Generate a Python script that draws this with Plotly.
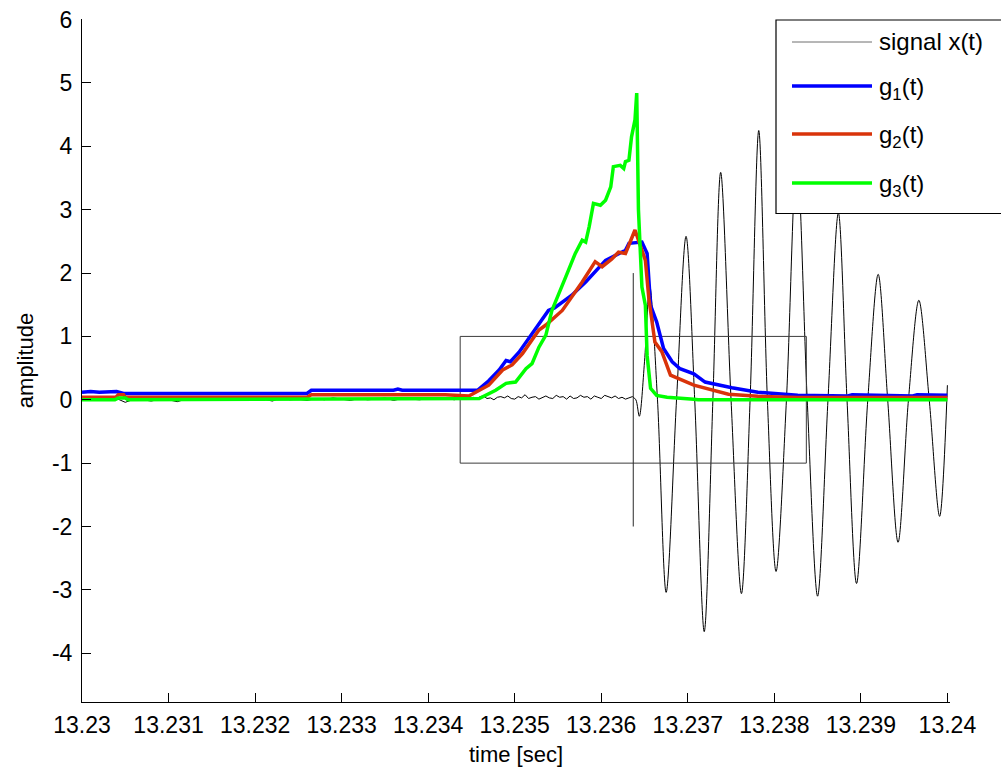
import plotly.graph_objects as go

# ---------------- data ----------------
# x(t): background noise before the event, sampled every 0.0001 s
pre_t0 = 13.2300
pre_dt = 0.0001
pre_vals = [0.00, 0.01, -0.01, 0.00, 0.02, -0.04, 0.01, 0.00, -0.02, 0.01,
            0.00, -0.03, 0.01, 0.02, 0.00, -0.01, 0.01, 0.00, 0.02, -0.01,
            0.00, 0.01, -0.02, 0.03, 0.00, 0.01, -0.01, 0.02, 0.00, 0.03,
            0.01, -0.01, 0.02, 0.00, 0.01, 0.03, -0.01, 0.02, 0.01, 0.00,
            0.02, 0.01, 0.03, 0.00]
# x(t): noise just before the onset, sampled every 0.00004 s
noise_t0 = 13.2344
noise_dt = 0.00004
noise_vals = [0.03, 0.05, 0.02, 0.04, 0.01, 0.05, 0.06, 0.02, 0.03, 0.00,
              0.04, 0.05, 0.03, 0.06, 0.02, 0.01, 0.05, 0.03, 0.08, 0.02,
              0.04, 0.05, 0.01, 0.03, 0.06, 0.03, 0.02, 0.07, 0.04, 0.05,
              0.01, 0.06, 0.02, 0.03, 0.07, 0.04, 0.05, 0.01, 0.06, 0.04,
              0.02, 0.07, 0.05, 0.03, 0.06, 0.02, 0.04, 0.01, 0.03, 0.05]
# x(t): oscillation after the onset (extremes and zero crossings)
osc_t = [13.23636, 13.23640, 13.23644, 13.23650, 13.23656, 13.23665, 13.23675, 13.23687,
         13.23698, 13.23708, 13.23719, 13.23729, 13.23738, 13.23750, 13.23762,
         13.23772, 13.23782, 13.23792, 13.23802, 13.23814, 13.23826, 13.23838,
         13.23850, 13.23862, 13.23874, 13.23884, 13.23895, 13.23908, 13.23920,
         13.23931, 13.23943, 13.23955, 13.23967, 13.23979, 13.23991, 13.24000]
osc_v = [0.05, 0.00, -0.26, 0.60, 1.80, 0.00, -3.04, 0.00,
         2.58, 0.00, -3.66, 0.00, 3.59, 0.00, -3.06,
         0.00, 4.25, 0.00, -2.71, 0.00, 3.90, 0.00,
         -3.10, 0.00, 2.95, 0.00, -2.90, 0.00, 1.98,
         0.00, -2.25, 0.00, 1.57, 0.00, -1.84, 0.23]

# g1(t)
g1_t = [13.23000, 13.23010, 13.23020, 13.23030, 13.23040, 13.23048, 13.23150,
        13.23160, 13.23200, 13.23260, 13.23265, 13.23360, 13.23365, 13.23370,
        13.23440, 13.23457, 13.23470, 13.23482, 13.23490, 13.23495, 13.23505,
        13.23520, 13.23539, 13.23546, 13.23566, 13.23582, 13.23605, 13.23628,
        13.23632, 13.23647, 13.23653, 13.23657, 13.23664, 13.23672, 13.23682,
        13.23691, 13.23707, 13.23720, 13.23751, 13.23781, 13.23827, 13.23885,
        13.23890, 13.23960, 13.23965, 13.24000]
g1_v = [0.12, 0.13, 0.12, 0.13, 0.13, 0.10, 0.10,
        0.09, 0.10, 0.10, 0.15, 0.15, 0.17, 0.15,
        0.15, 0.15, 0.30, 0.47, 0.62, 0.60, 0.75,
        1.05, 1.41, 1.45, 1.65, 1.86, 2.20, 2.36,
        2.47, 2.49, 2.31, 1.49, 1.23, 0.81, 0.60,
        0.49, 0.41, 0.28, 0.19, 0.12, 0.07, 0.06,
        0.08, 0.06, 0.08, 0.07]

# g2(t)
g2_t = [13.23000, 13.23039, 13.23042, 13.23048, 13.23050, 13.23260, 13.23265,
        13.23420, 13.23447, 13.23459, 13.23470, 13.23486, 13.23497, 13.23509,
        13.23528, 13.23536, 13.23555, 13.23578, 13.23593, 13.23601, 13.23612,
        13.23620, 13.23628, 13.23639, 13.23651, 13.23655, 13.23662, 13.23670,
        13.23680, 13.23707, 13.23747, 13.23781, 13.23827, 13.24000]
g2_v = [0.04, 0.04, 0.08, 0.08, 0.04, 0.04, 0.08,
        0.08, 0.06, 0.15, 0.23, 0.47, 0.55, 0.73,
        1.10, 1.18, 1.41, 1.86, 2.18, 2.10, 2.22,
        2.33, 2.31, 2.68, 2.20, 1.60, 0.91, 0.76,
        0.39, 0.23, 0.087, 0.055, 0.035, 0.035]

# g3(t)
g3_t = [13.23000, 13.23038, 13.23042, 13.23050, 13.23053, 13.23459, 13.23478,
        13.23490, 13.23501, 13.23513, 13.23520, 13.23528, 13.23536, 13.23543,
        13.23559, 13.23570, 13.23578, 13.23582, 13.23586, 13.23591, 13.23599,
        13.23605, 13.23611, 13.23614, 13.23622, 13.23626, 13.23628, 13.23632,
        13.23635, 13.23639, 13.23641, 13.23643, 13.23647, 13.23651, 13.23653,
        13.23657, 13.23664, 13.23676, 13.23707, 13.23712, 13.24000]
g3_v = [0.00, 0.00, 0.03, 0.03, 0.00, 0.02, 0.15,
        0.26, 0.28, 0.49, 0.57, 0.83, 1.02, 1.41,
        1.94, 2.31, 2.52, 2.49, 2.73, 3.10, 3.07,
        3.15, 3.36, 3.68, 3.70, 3.65, 3.76, 3.78,
        4.15, 4.42, 4.84, 3.00, 1.78, 1.49, 0.70,
        0.18, 0.07, 0.04, 0.01, 0.00, 0.00]

# analysis window and onset marker
window_t = [13.23437, 13.23837]
window_amp = 1.0
marker_t = 13.23637
marker_amp = 2.0

x_ticks = [13.230, 13.231, 13.232, 13.233, 13.234, 13.235, 13.236,
           13.237, 13.238, 13.239, 13.240]
x_tick_labels = ["13.23", "13.231", "13.232", "13.233", "13.234", "13.235",
                 "13.236", "13.237", "13.238", "13.239", "13.24"]
y_ticks = [-4, -3, -2, -1, 0, 1, 2, 3, 4, 5, 6]
y_tick_labels = ["-4", "-3", "-2", "-1", "0", "1", "2", "3", "4", "5", "6"]

legend_names = ["signal x(t)", "g<sub>1</sub>(t)", "g<sub>2</sub>(t)", "g<sub>3</sub>(t)"]

# ---------------- styles ----------------
C_SIG = "black"
C_G1 = "rgb(0,0,255)"
C_G2 = "rgb(217,51,10)"
C_G3 = "rgb(0,255,0)"
FONT = "Liberation Sans, Arial, sans-serif"

W, H = 1001, 771
ML, MR, MT, MB = 82, 51, 19, 69

pre_t = [pre_t0 + i * pre_dt for i in range(len(pre_vals))] + \
        [noise_t0 + i * noise_dt for i in range(len(noise_vals))]
pre_v = pre_vals + noise_vals

fig = go.Figure()
fig.add_trace(go.Scatter(x=pre_t, y=pre_v, mode="lines",
                         line=dict(color=C_SIG, width=1), name="signal x(t)"))
fig.add_trace(go.Scatter(x=osc_t, y=osc_v, mode="lines",
                         line=dict(color=C_SIG, width=1, shape="spline", smoothing=0.9),
                         name="signal x(t)", showlegend=False))
# window rectangle and onset marker
fig.add_trace(go.Scatter(x=[window_t[0], window_t[1], window_t[1], window_t[0], window_t[0]],
                         y=[-window_amp, -window_amp, window_amp, window_amp, -window_amp],
                         mode="lines", line=dict(color="rgb(60,60,60)", width=1),
                         hoverinfo="skip", name="window"))
fig.add_trace(go.Scatter(x=[marker_t, marker_t], y=[-marker_amp, marker_amp],
                         mode="lines", line=dict(color="rgb(40,40,40)", width=1),
                         hoverinfo="skip", name="onset"))
for tt, vv, col, nm in [(g1_t, g1_v, C_G1, "g1"), (g2_t, g2_v, C_G2, "g2"), (g3_t, g3_v, C_G3, "g3")]:
    fig.add_trace(go.Scatter(x=tt, y=vv, mode="lines",
                             line=dict(color=col, width=3.5), name=nm))


def px_x(px):
    return (px - ML) / (W - ML - MR)


def px_y(py):
    return (H - MB - py) / (H - MT - MB)


# custom legend box (lines are longer than Plotly's native legend allows)
shapes = [dict(type="rect", xref="paper", yref="paper",
               x0=px_x(776), x1=px_x(1010), y0=px_y(213.5), y1=px_y(20),
               line=dict(color="black", width=1.2), fillcolor="white", layer="above")]
rows_y = [42, 86, 134, 183]
row_cols = [C_SIG, C_G1, C_G2, C_G3]
row_w = [1, 3.5, 3.5, 3.5]
annotations = []
for i, (ry, col, lw, nm) in enumerate(zip(rows_y, row_cols, row_w, legend_names)):
    shapes.append(dict(type="line", xref="paper", yref="paper",
                       x0=px_x(792), x1=px_x(872), y0=px_y(ry), y1=px_y(ry),
                       line=dict(color=col if i else "rgb(110,110,110)", width=lw), layer="above"))
    annotations.append(dict(text=nm, xref="paper", yref="paper",
                            x=px_x(877), y=px_y(ry + (0 if i == 0 else 3)),
                            xanchor="left", yanchor="middle", showarrow=False,
                            font=dict(family=FONT, size=24, color="black")))

fig.update_layout(
    width=W, height=H,
    margin=dict(l=ML, r=MR, t=MT, b=MB, autoexpand=False),
    paper_bgcolor="white", plot_bgcolor="white",
    showlegend=False,
    font=dict(family=FONT, size=22, color="black"),
    shapes=shapes, annotations=annotations,
    xaxis=dict(range=[13.23, 13.24003], tickvals=x_ticks, ticktext=x_tick_labels,
               ticks="inside", ticklen=9, tickwidth=1, tickcolor="black",
               showline=True, linecolor="black", linewidth=1, mirror=False,
               showgrid=False, zeroline=False, ticklabelstandoff=2,
               tickfont=dict(size=23),
               title=dict(text="time [sec]", standoff=10, font=dict(size=22))),
    yaxis=dict(range=[-4.77, 6.01], tickvals=y_ticks, ticktext=y_tick_labels,
               ticks="inside", ticklen=9, tickwidth=1, tickcolor="black",
               showline=True, linecolor="black", linewidth=1, mirror=False,
               showgrid=False, zeroline=False, ticklabelstandoff=4,
               tickfont=dict(size=23),
               title=dict(text="amplitude", standoff=12, font=dict(size=22))),
)

fig.write_html("out.html", config={"displayModeBar": False},
               post_script="document.body.style.margin='0';")
